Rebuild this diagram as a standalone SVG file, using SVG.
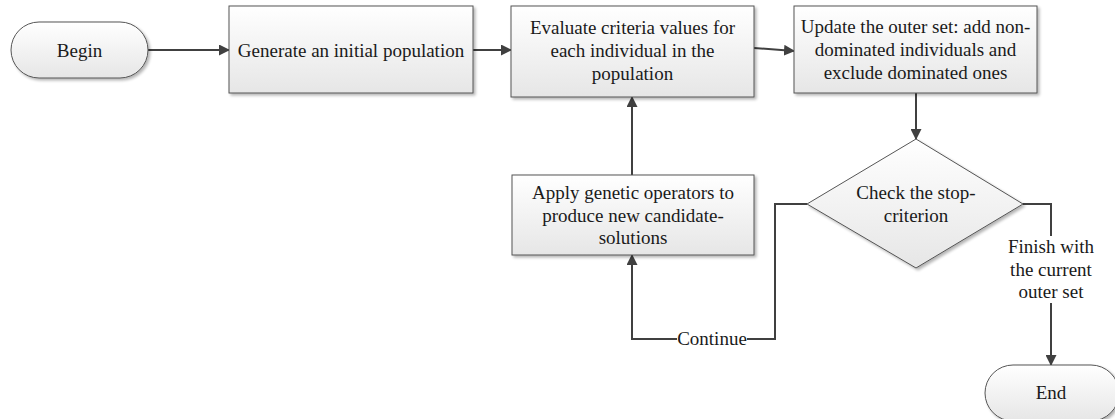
<svg xmlns="http://www.w3.org/2000/svg" width="1115" height="419" viewBox="0 0 1115 419">
<defs>
<linearGradient id="g" x1="0" y1="0" x2="0" y2="1">
<stop offset="0" stop-color="#ffffff"/>
<stop offset="1" stop-color="#e6e6e6"/>
</linearGradient>
<filter id="sh" x="-10%" y="-10%" width="130%" height="140%">
<feGaussianBlur in="SourceAlpha" stdDeviation="1.5"/>
<feOffset dx="2" dy="2" result="b"/>
<feComponentTransfer><feFuncA type="linear" slope="0.3"/></feComponentTransfer>
<feMerge><feMergeNode/><feMergeNode in="SourceGraphic"/></feMerge>
</filter>
<marker id="ah" markerWidth="11" markerHeight="11" refX="10" refY="5.5" orient="auto" markerUnits="userSpaceOnUse">
<path d="M0,0 L11,5.5 L0,11 z" fill="#404040"/>
</marker>
</defs>
<style>
.n{fill:url(#g);stroke:#555;stroke-width:1;filter:url(#sh)}
.t{font-size:19px;fill:#1a1a1a;text-anchor:middle}
.c{fill:none;stroke:#404040;stroke-width:2}
</style>
<rect width="1115" height="419" fill="#fff"/>
<g id="connectors">
<path class="c" d="M148,50 L229,50" marker-end="url(#ah)"/>
<path class="c" d="M473,50 L511,50" marker-end="url(#ah)"/>
<path class="c" d="M754,48 L794,51" marker-end="url(#ah)"/>
<path class="c" d="M916,93 L916,139" marker-end="url(#ah)"/>
<path class="c" d="M632,175 L632,97" marker-end="url(#ah)"/>
<path class="c" d="M807,204 L775,204 L775,339 L632,339 L632,255" marker-end="url(#ah)"/>
<path class="c" d="M1023,204 L1051,204 L1051,365" marker-end="url(#ah)"/>
<rect x="677" y="329" width="70" height="20" fill="#fff"/>
<text class="t" font-family="Liberation Serif" x="712" y="345">Continue</text>
<rect x="1006" y="236" width="90" height="67" fill="#fff"/>
<text class="t" font-family="Liberation Serif" x="1051" y="253">Finish with</text>
<text class="t" font-family="Liberation Serif" x="1051" y="276">the current</text>
<text class="t" font-family="Liberation Serif" x="1051" y="298">outer set</text>
</g>
<g id="begin">
<rect class="n" x="11" y="22" width="137" height="56" rx="28" ry="28"/>
<text class="t" font-family="Liberation Serif" x="79.5" y="57">Begin</text>
</g>
<g id="generate">
<rect class="n" x="229" y="6" width="244" height="87"/>
<text class="t" font-family="Liberation Serif" x="351" y="57">Generate an initial population</text>
</g>
<g id="evaluate">
<rect class="n" x="511" y="6" width="243" height="91"/>
<text class="t" font-family="Liberation Serif" x="632.5" y="34">Evaluate criteria values for</text>
<text class="t" font-family="Liberation Serif" x="632.5" y="57">each individual in the</text>
<text class="t" font-family="Liberation Serif" x="632.5" y="80">population</text>
</g>
<g id="update">
<rect class="n" x="794" y="6" width="243" height="87"/>
<text class="t" font-family="Liberation Serif" x="915.5" y="33">Update the outer set: add non-</text>
<text class="t" font-family="Liberation Serif" x="915.5" y="56">dominated individuals and</text>
<text class="t" font-family="Liberation Serif" x="915.5" y="79">exclude dominated ones</text>
</g>
<g id="apply">
<rect class="n" x="512" y="175" width="242" height="80"/>
<text class="t" font-family="Liberation Serif" x="633" y="199">Apply genetic operators to</text>
<text class="t" font-family="Liberation Serif" x="633" y="222">produce new candidate-</text>
<text class="t" font-family="Liberation Serif" x="633" y="244">solutions</text>
</g>
<g id="check">
<polygon class="n" points="916,139 1023,204 916,268 807,204"/>
<text class="t" font-family="Liberation Serif" x="916" y="199">Check the stop-</text>
<text class="t" font-family="Liberation Serif" x="916" y="222">criterion</text>
</g>
<g id="end">
<rect class="n" x="985" y="365" width="134" height="56" rx="28" ry="28"/>
<text class="t" font-family="Liberation Serif" x="1051" y="399">End</text>
</g>
</svg>
